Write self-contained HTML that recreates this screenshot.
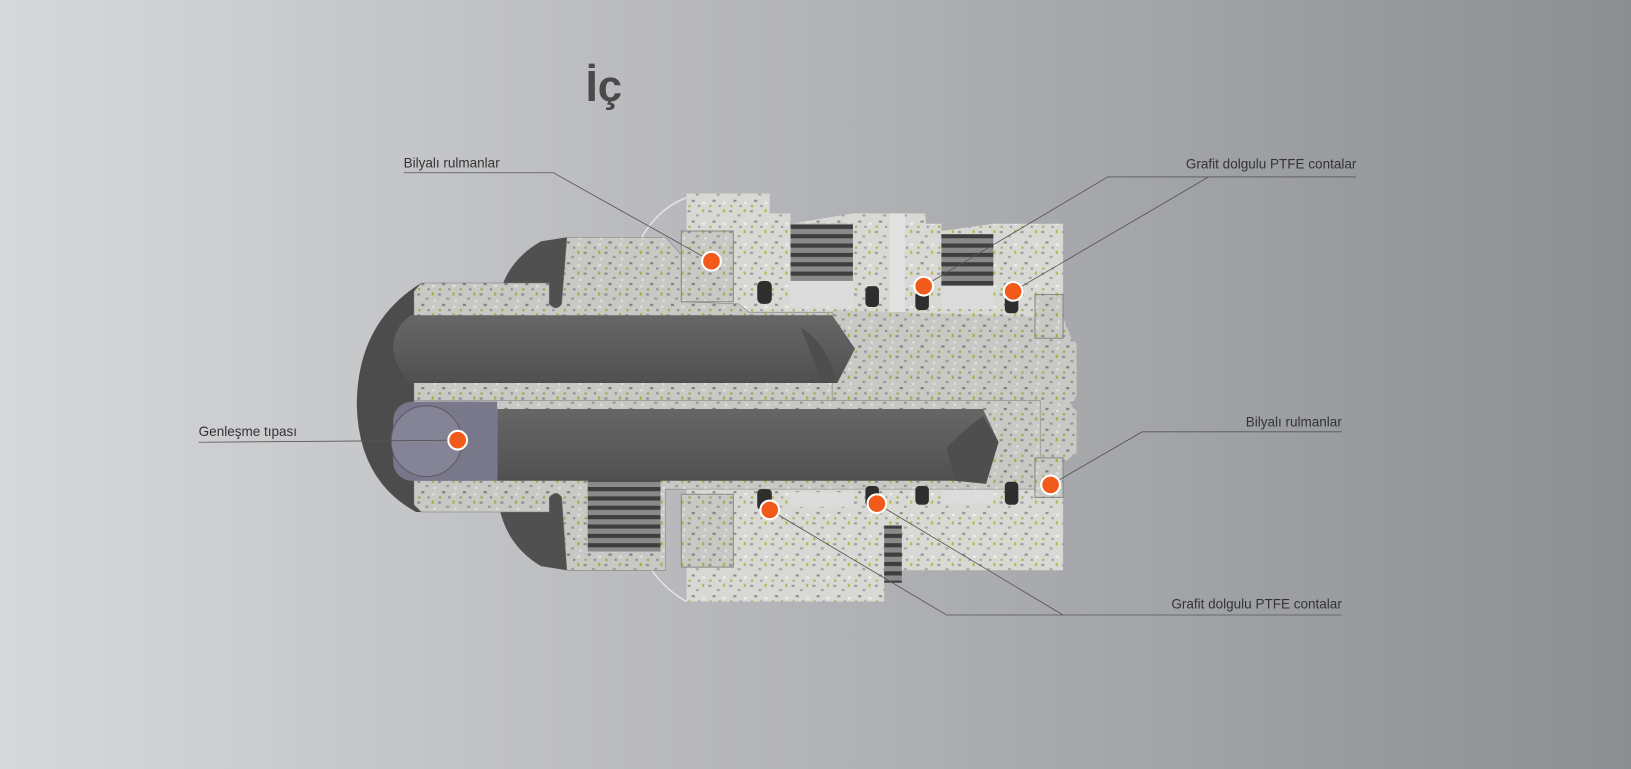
<!DOCTYPE html>
<html><head><meta charset="utf-8"><style>
html,body{margin:0;padding:0;width:1631px;height:769px;overflow:hidden}
body{background:linear-gradient(90deg,#d6d8da 0%,#b9babd 40%,#a3a5a8 70%,#8b8e92 100%);font-family:"Liberation Sans",sans-serif}
svg{position:absolute;left:0;top:0}
</style></head><body>
<svg width="1631" height="769" viewBox="0 0 1568 739" preserveAspectRatio="none" xmlns="http://www.w3.org/2000/svg">
<defs>
<pattern id="sp" width="20" height="20" patternUnits="userSpaceOnUse">
<rect width="20" height="20" fill="#c8c8c4"/>
<rect x="1" y="2" width="3" height="2" fill="#8c8c88"/><rect x="9" y="6" width="3" height="2" fill="#9a9a92"/>
<rect x="15" y="1" width="2" height="3" fill="#a6ae3c"/><rect x="5" y="12" width="3" height="2" fill="#7d7d78"/>
<rect x="15" y="14" width="3" height="2" fill="#e0e0dc"/><rect x="2" y="17" width="2" height="2" fill="#9ea646"/>
<rect x="11" y="17" width="2" height="2" fill="#888"/><rect x="17" y="8" width="2" height="2" fill="#e4e4e0"/>
</pattern>
<pattern id="sp2" width="20" height="20" patternUnits="userSpaceOnUse">
<rect width="20" height="20" fill="#d8d8d4"/>
<rect x="1" y="2" width="3" height="2" fill="#9a9a95"/><rect x="9" y="6" width="3" height="2" fill="#a8a8a0"/>
<rect x="15" y="1" width="2" height="3" fill="#b4bc40"/><rect x="5" y="12" width="3" height="2" fill="#8f8f8a"/>
<rect x="15" y="14" width="3" height="2" fill="#f0f0ec"/><rect x="2" y="17" width="2" height="2" fill="#a8b24a"/>
<rect x="11" y="17" width="2" height="2" fill="#999"/>
</pattern>
<pattern id="th" width="10" height="9" patternUnits="userSpaceOnUse">
<rect width="10" height="9" fill="#8a8a8a"/><rect y="0" width="10" height="4" fill="#3e3e3e"/>
</pattern>
<linearGradient id="rod" x1="0" y1="0" x2="0" y2="1"><stop offset="0" stop-color="#666"/><stop offset="0.5" stop-color="#5c5c5c"/><stop offset="1" stop-color="#505050"/></linearGradient>
</defs>
<text x="563" y="97" font-size="42" font-weight="bold" fill="#4a4a4a" font-family="Liberation Sans,sans-serif">İç</text>
<path d="M660,190 Q590,215 585,380 Q590,540 660,578" fill="none" stroke="#e4e4e4" stroke-width="1.5"/>
<path d="M405,272 Q343,310 343,390 Q345,462 400,492 L420,492 L420,272Z" fill="#4c4c4c"/>
<path d="M545,228 L520,232 Q480,255 478,300 L545,300Z" fill="#505050"/>
<path d="M545,548 L520,544 Q480,520 478,470 L545,470Z" fill="#505050"/>
<path d="M660,186 L740,186 L740,205 L760,205 L760,215 L820,205 L855,205 L855,300 L660,300Z" fill="url(#sp2)"/>
<rect x="855" y="205" width="15" height="95" fill="#e2e2e2"/>
<path d="M870,205 L890,205 L890,215 L905,215 L905,222 L955,215 L1022,215 L1022,305 L870,305Z" fill="url(#sp2)"/>
<rect x="760" y="215" width="60" height="55" fill="url(#th)"/>
<rect x="905" y="225" width="50" height="50" fill="url(#th)"/>
<rect x="760" y="270" width="60" height="25" fill="#dcdcdc"/>
<rect x="905" y="275" width="50" height="22" fill="#dcdcdc"/>
<path d="M660,470 L1022,462 L1022,548 L850,548 L850,578 L660,578Z" fill="url(#sp2)"/>
<rect x="760" y="473" width="60" height="14" fill="#dcdcdc"/>
<rect x="905" y="470" width="50" height="14" fill="#dcdcdc"/>
<rect x="850" y="505" width="17" height="55" fill="url(#th)"/>
<path d="M800,298 L1022,305 L1030,325 L1035,330 L1035,380 L1030,390 L1035,395 L1035,435 L1022,445 L1000,462 L800,470Z" fill="url(#sp)"/>
<path d="M405,272 L528,272 L528,292 Q535,300 540,292 L545,228 L640,228 L655,245 L655,290 L710,292 L720,300 L800,300 L800,395 L398,395 L398,280Z" fill="url(#sp)" stroke="#777" stroke-width="0.5"/>
<path d="M398,385 L1000,385 L1000,470 L640,470 L640,548 L545,548 L540,478 Q535,470 528,478 L528,492 L405,492 L398,485Z" fill="url(#sp)" stroke="#777" stroke-width="0.5"/>
<rect x="565" y="445" width="70" height="85" fill="url(#th)"/>
<path d="M555,428 Q580,418 610,425 L640,445 L565,448Z" fill="#6a6a6a"/>
<path d="M395,303 L800,303 L822,335 L805,368 L395,368 Q378,350 378,335 Q378,315 395,303Z" fill="url(#rod)"/>
<path d="M770,315 Q795,330 805,368 L790,368 Q780,340 770,315Z" fill="#4e4e4e"/>
<path d="M478,393 L945,393 L960,425 L948,462 L478,462Z" fill="url(#rod)"/>
<path d="M910,430 Q930,410 945,400 L960,425 L948,465 L918,462Z" fill="#4e4e4e"/>
<rect x="378" y="386" width="100" height="76" rx="18" fill="#77768a"/>
<rect x="405" y="386" width="73" height="76" fill="#7a798c"/>
<circle cx="410" cy="424" r="34" fill="#858497" stroke="#5c5b6c"/>
<rect x="655" y="222" width="50" height="68" fill="url(#sp)" stroke="#888"/>
<rect x="655" y="475" width="50" height="70" fill="url(#sp)" stroke="#888"/>
<rect x="995" y="283" width="27" height="42" fill="url(#sp)" stroke="#888"/>
<rect x="995" y="440" width="27" height="38" fill="url(#sp)" stroke="#888"/>
<g fill="#2e2e2e">
<rect x="728" y="270" width="14" height="22" rx="5"/><rect x="832" y="275" width="13" height="20" rx="4"/>
<rect x="880" y="280" width="13" height="18" rx="4"/><rect x="966" y="283" width="13" height="18" rx="4"/>
<rect x="728" y="470" width="14" height="20" rx="4"/><rect x="832" y="467" width="13" height="20" rx="4"/>
<rect x="880" y="467" width="13" height="18" rx="4"/><rect x="966" y="463" width="13" height="22" rx="4"/>
</g>
<g stroke="#555" stroke-width="0.8" fill="none">
<polyline points="388,166 532,166 684,251"/>
<polyline points="1304,170 1065,170 888,275"/>
<polyline points="1162,170 974,280"/>
<polyline points="191,425 440,423"/>
<polyline points="1290,415 1098,415 1010,466"/>
<polyline points="1290,591 910,591 740,490"/>
<polyline points="1022,591 843,484"/>
</g>
<g font-size="13" fill="#333" font-family="Liberation Sans,sans-serif">
<text x="388" y="161">Bilyalı rulmanlar</text>
<text x="1304" y="162" text-anchor="end">Grafit dolgulu PTFE contalar</text>
<text x="191" y="419">Genleşme tıpası</text>
<text x="1290" y="410" text-anchor="end">Bilyalı rulmanlar</text>
<text x="1290" y="585" text-anchor="end">Grafit dolgulu PTFE contalar</text>
</g>
<g fill="#f25a1c" stroke="#fff" stroke-width="2">
<circle cx="684" cy="251" r="9"/><circle cx="888" cy="275" r="9"/><circle cx="974" cy="280" r="9"/>
<circle cx="440" cy="423" r="9"/><circle cx="1010" cy="466" r="9"/><circle cx="740" cy="490" r="9"/><circle cx="843" cy="484" r="9"/>
</g>
</svg>
</body></html>
